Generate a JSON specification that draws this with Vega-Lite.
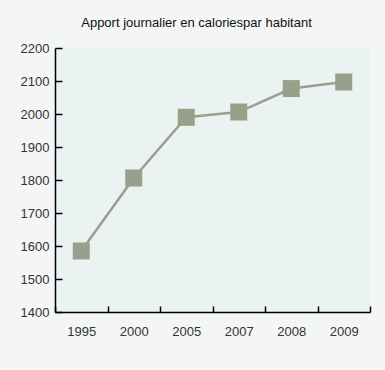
{
  "$schema": "https://vega.github.io/schema/vega-lite/v6.json",
  "width": 315,
  "height": 264,
  "autosize": "none",
  "padding": {"left": 55, "top": 48, "right": 15, "bottom": 58},
  "background": "#f4f6f5",
  "title": {"text": "Apport journalier en caloriespar habitant", "font": "Liberation Sans", "fontSize": 13, "fontWeight": "normal", "color": "#111111", "offset": 12, "dx": -16, "anchor": "middle"},
  "config": {
    "view": {"fill": "#ebf3f2", "stroke": null},
    "axis": {"labelFont": "Liberation Sans", "labelFontSize": 13, "labelColor": "#333333", "domainColor": "#000000", "domainWidth": 1.5, "tickColor": "#000000", "tickWidth": 1.5, "grid": false, "title": null}
  },
  "data": {"values": [
    {"year": "1995", "kcal": 1585},
    {"year": "2000", "kcal": 1806},
    {"year": "2005", "kcal": 1990},
    {"year": "2007", "kcal": 2006},
    {"year": "2008", "kcal": 2077},
    {"year": "2009", "kcal": 2097}
  ]},
  "encoding": {
    "x": {"field": "year", "type": "ordinal", "scale": {"paddingInner": 0, "paddingOuter": 0}, "axis": {"labelAngle": 0, "tickBand": "extent", "tickSize": -6, "labelPadding": 19}},
    "y": {"field": "kcal", "type": "quantitative", "scale": {"domain": [1400, 2200], "nice": false, "zero": false}, "axis": {"values": [1400,1500,1600,1700,1800,1900,2000,2100,2200], "format": "d", "tickSize": -7, "labelPadding": 13}}
  },
  "layer": [
    {"mark": {"type": "line", "color": "#97a08a", "strokeWidth": 2.5}},
    {"mark": {"type": "point", "shape": "square", "filled": true, "size": 289, "color": "#97a08a", "opacity": 1}}
  ]
}
